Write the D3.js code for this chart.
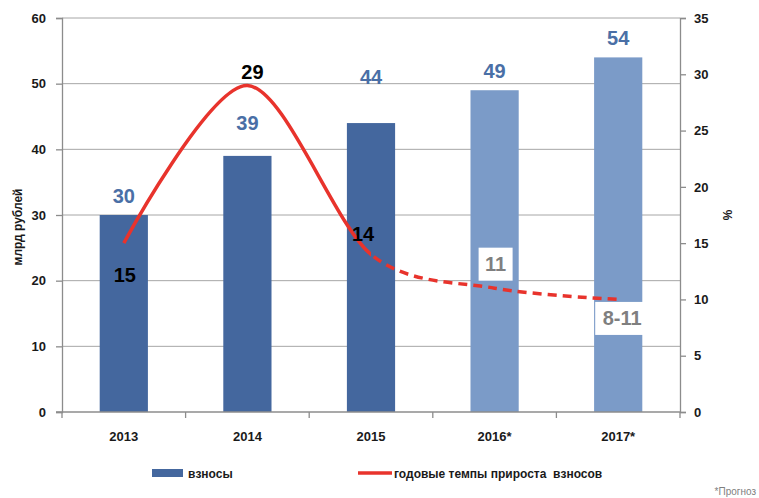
<!DOCTYPE html>
<html>
<head>
<meta charset="utf-8">
<script src="https://cdn.jsdelivr.net/npm/d3@7"></script>
<style>
  body { margin: 0; background: #fff; }
  svg text { font-family: "Liberation Sans", Arial, sans-serif; }
</style>
</head>
<body>
<div id="chart"></div>
<script>
// chart data
const years = ['2013', '2014', '2015', '2016*', '2017*'];
const contributions = [30, 39, 44, 49, 54];
const forecast = [false, false, false, true, true];
const growthRates = [15, 29, 14, 11, 10];
const growthLabels = ['15', '29', '14', '11', '8-11'];
const leftTicks = [0, 10, 20, 30, 40, 50, 60];
const rightTicks = [0, 5, 10, 15, 20, 25, 30, 35];

const width = 759, height = 498;
const margin = { top: 18, right: 79, bottom: 86, left: 62 };
const plotW = width - margin.left - margin.right;
const plotH = height - margin.top - margin.bottom;

const svg = d3.select('#chart').append('svg')
  .attr('width', width)
  .attr('height', height);

const g = svg.append('g')
  .attr('transform', `translate(${margin.left},${margin.top})`);

const x = d3.scaleBand().domain(years).range([0, plotW])
  .paddingInner(0.61).paddingOuter(0.305);
const y = d3.scaleLinear().domain([0, 60]).range([plotH, 0]);
const yPct = d3.scaleLinear().domain([0, 35]).range([plotH, 0]);
const cx = d => x(d) + x.bandwidth() / 2;

// gridlines
g.selectAll('.grid')
  .data(leftTicks.slice(1))
  .enter().append('line')
  .attr('x1', 0).attr('x2', plotW)
  .attr('y1', d => y(d)).attr('y2', d => y(d))
  .attr('stroke', '#a6a6a6').attr('stroke-width', 1);

// bars
g.selectAll('.bar')
  .data(years)
  .enter().append('rect')
  .attr('x', d => x(d))
  .attr('y', (d, i) => y(contributions[i]))
  .attr('width', x.bandwidth())
  .attr('height', (d, i) => plotH - y(contributions[i]))
  .attr('fill', (d, i) => forecast[i] ? '#7b9bc8' : '#44679e');

// axes
const axisColor = '#8c8c8c';
const styleAxis = sel => {
  sel.select('.domain').attr('stroke', axisColor).attr('stroke-width', 1.3);
  sel.selectAll('.tick line').attr('stroke', axisColor).attr('stroke-width', 1.3);
  sel.selectAll('.tick text')
    .attr('fill', '#1a1a1a')
    .attr('font-size', 13)
    .attr('font-weight', 'bold');
};

g.append('g')
  .call(d3.axisLeft(y).tickValues(leftTicks).tickSizeOuter(0).tickSize(6).tickPadding(10))
  .call(styleAxis);

g.append('g')
  .attr('transform', `translate(${plotW},0)`)
  .call(d3.axisRight(yPct).tickValues(rightTicks).tickSizeOuter(0).tickSize(6).tickPadding(8))
  .call(styleAxis);

const xBottom = g.append('g')
  .attr('transform', `translate(0,${plotH})`);
xBottom.append('line')
  .attr('x1', -6).attr('x2', plotW)
  .attr('stroke', axisColor).attr('stroke-width', 1.3);
xBottom.selectAll('.xt')
  .data(d3.range(years.length + 1))
  .enter().append('line')
  .attr('x1', i => i * x.step()).attr('x2', i => i * x.step())
  .attr('y1', 0).attr('y2', 6)
  .attr('stroke', axisColor).attr('stroke-width', 1.3);
xBottom.selectAll('.xl')
  .data(years)
  .enter().append('text')
  .attr('x', d => cx(d))
  .attr('y', 29)
  .attr('text-anchor', 'middle')
  .attr('font-size', 13)
  .attr('font-weight', 'bold')
  .attr('fill', '#1a1a1a')
  .text(d => d);

// growth line: solid for actual years, dashed for forecast
const pts = years.map((d, i) => [cx(d), yPct(growthRates[i])]);
const line = d3.line().curve(d3.curveCardinal.tension(0.1));
const splitX = cx(years[2]);

const defs = svg.append('defs');
defs.append('clipPath').attr('id', 'solidClip')
  .append('rect').attr('x', -10).attr('y', -20).attr('width', splitX + 10).attr('height', plotH + 40);
defs.append('clipPath').attr('id', 'dashClip')
  .append('rect').attr('x', splitX).attr('y', -20).attr('width', plotW).attr('height', plotH + 40);

g.append('path')
  .attr('d', line(pts))
  .attr('fill', 'none')
  .attr('stroke', '#e8332c')
  .attr('stroke-width', 3.5)
  .attr('clip-path', 'url(#solidClip)');

g.append('path')
  .attr('d', line(pts))
  .attr('fill', 'none')
  .attr('stroke', '#e8332c')
  .attr('stroke-width', 3.5)
  .attr('stroke-dasharray', '9,6')
  .attr('clip-path', 'url(#dashClip)');

// bar value labels (some lifted clear of the curve)
const barLabelLift = [0, 14, 27, 0, 0];
g.selectAll('.blab')
  .data(years)
  .enter().append('text')
  .attr('x', d => cx(d))
  .attr('y', (d, i) => y(contributions[i]) - 12 - barLabelLift[i])
  .attr('text-anchor', 'middle')
  .attr('font-size', 20)
  .attr('font-weight', 'bold')
  .attr('fill', '#4a6fa6')
  .text((d, i) => contributions[i]);

// growth labels
const rateDx = [1, 5, -8, 1, 4];
const rateDy = [32, -14, -20, -24, 19];
years.forEach((d, i) => {
  const tx = cx(d) + rateDx[i];
  const ty = yPct(growthRates[i]) + rateDy[i];
  if (forecast[i]) {
    const w = growthLabels[i].length * 10 + 14;
    g.append('rect')
      .attr('x', tx - w / 2).attr('y', ty - 16.5)
      .attr('width', w).attr('height', 33)
      .attr('fill', '#fff');
  }
  g.append('text')
    .attr('x', tx)
    .attr('y', ty + 7)
    .attr('text-anchor', 'middle')
    .attr('font-size', 20)
    .attr('font-weight', 'bold')
    .attr('fill', forecast[i] ? '#7f7f7f' : '#000')
    .text(growthLabels[i]);
});

// axis titles
svg.append('text')
  .attr('transform', `translate(22,${margin.top + plotH / 2 + 12}) rotate(-90)`)
  .attr('text-anchor', 'middle')
  .attr('font-size', 12)
  .attr('font-weight', 'bold')
  .attr('fill', '#1a1a1a')
  .text('млрд рублей');

svg.append('text')
  .attr('transform', `translate(723,215) rotate(90)`)
  .attr('text-anchor', 'middle')
  .attr('font-size', 12)
  .attr('font-weight', 'bold')
  .attr('fill', '#1a1a1a')
  .text('%');

// legend
const legend = svg.append('g');
legend.append('rect')
  .attr('x', 152).attr('y', 469).attr('width', 31).attr('height', 8)
  .attr('fill', '#44679e');
legend.append('text')
  .attr('x', 188).attr('y', 478)
  .attr('font-size', 12).attr('font-weight', 'bold').attr('fill', '#1a1a1a')
  .text('взносы');
legend.append('line')
  .attr('x1', 358).attr('x2', 392).attr('y1', 473).attr('y2', 473)
  .attr('stroke', '#e8332c').attr('stroke-width', 3.5);
legend.append('text')
  .attr('x', 394).attr('y', 478)
  .attr('font-size', 12).attr('font-weight', 'bold').attr('fill', '#1a1a1a')
  .attr('xml:space', 'preserve')
  .text('годовые темпы прироста  взносов');

svg.append('text')
  .attr('x', 756).attr('y', 495)
  .attr('text-anchor', 'end')
  .attr('font-size', 10)
  .attr('fill', '#7f7f7f')
  .text('*Прогноз');
</script>
</body>
</html>
